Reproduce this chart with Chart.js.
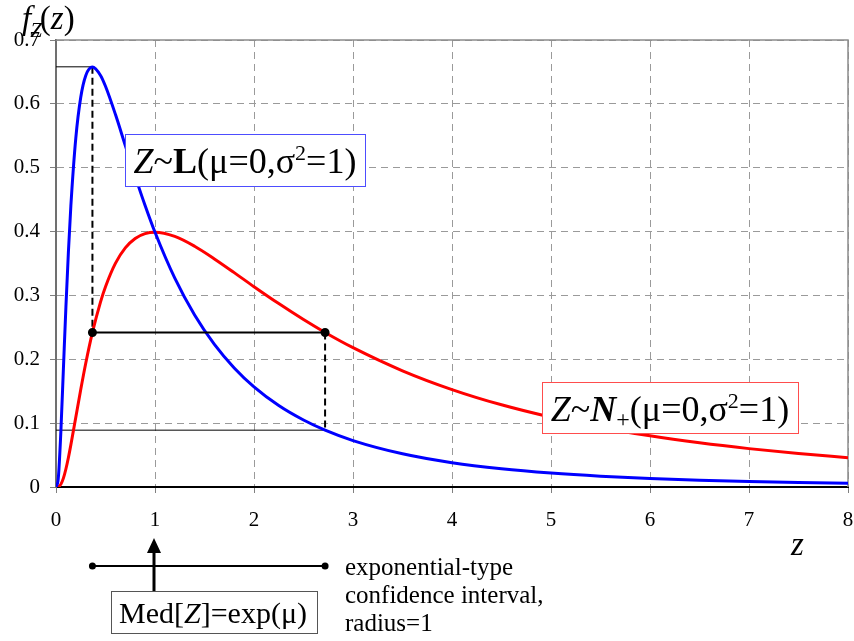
<!DOCTYPE html>
<html lang="en">
<head>
<meta charset="UTF-8">
<title>Lognormal and positive normal densities</title>
<script src="https://cdn.jsdelivr.net/npm/chart.js"></script>
<style>
    body { margin: 0; background: #fff; }
</style>
</head>
<body>
<canvas id="densityChart" width="854" height="641"></canvas>
<script>
    const zValues = [0, 0.02, 0.03, 0.05, 0.075, 0.1, 0.125, 0.15, 0.2, 0.25, 0.3, 0.368, 0.45, 0.5, 0.6, 0.7, 0.8, 0.9,
        1, 1.2, 1.4, 1.6, 1.8, 2, 2.25, 2.5, 2.718, 3, 3.5, 4, 4.5, 5, 5.5, 6, 6.5, 7, 7.5, 8];
    // blue curve, Z~L(0,1)
    const lognormalDensity = [0, 0.0095, 0.0285, 0.0898, 0.1859, 0.2815, 0.3673, 0.440, 0.5464, 0.6104, 0.6442, 0.6577, 0.6445, 0.6275, 0.5836, 0.5348, 0.4864, 0.4408,
        0.3989, 0.3270, 0.2693, 0.2233, 0.1865, 0.1569, 0.1276, 0.1049, 0.0890, 0.0727, 0.0520, 0.0381, 0.0286, 0.0219, 0.0170, 0.0134, 0.0107, 0.0086, 0.0070, 0.0057];
    // red curve, Z~N+(0,1)
    const positiveNormalDensity = [0, 0.0002, 0.0009, 0.0045, 0.0139, 0.0282, 0.0459, 0.0660, 0.1093, 0.1526, 0.1933, 0.2420, 0.2900, 0.3137, 0.3502, 0.3744, 0.3891, 0.3967,
        0.3989, 0.3924, 0.3770, 0.3572, 0.3357, 0.3137, 0.2872, 0.2622, 0.2420, 0.2182, 0.1820, 0.1526, 0.1287, 0.1093, 0.0933, 0.0801, 0.0692, 0.0601, 0.0524, 0.0459];

    const xTicks = [0, 1, 2, 3, 4, 5, 6, 7, 8];
    const yTicks = [0, 0.1, 0.2, 0.3, 0.4, 0.5, 0.6, 0.7];

    // guide lines
    const ciLow = 0.368, ciHigh = 2.718, medianZ = 1;
    const peakLevel = 0.658, ciLevel = 0.242, tailLevel = 0.089;

    const serif = '"Liberation Serif", "Times New Roman", serif';
    const font = (size, style) => (style || '') + ' ' + size + 'px ' + serif;
    const pts = (xs, ys) => xs.map((x, i) => ({ x: x, y: ys[i] }));

    // write a line of text made of pieces in different styles
    function drawRich(ctx, parts, x, y, align) {
        let total = 0;
        parts.forEach(p => { ctx.font = p.font; p.w = ctx.measureText(p.text).width; total += p.w + (p.dx || 0); });
        let cx = align === 'center' ? x - total / 2 : x;
        ctx.textAlign = 'left';
        ctx.textBaseline = 'alphabetic';
        ctx.fillStyle = '#000';
        parts.forEach(p => { ctx.font = p.font; cx += p.dx || 0; ctx.fillText(p.text, cx, y + (p.dy || 0)); cx += p.w; });
    }

    function labelBox(ctx, x, y, w, h, color) {
        ctx.fillStyle = '#fff';
        ctx.fillRect(x, y, w, h);
        ctx.strokeStyle = color;
        ctx.lineWidth = 1;
        ctx.strokeRect(x + 0.5, y + 0.5, w, h);
    }

    const extras = {
        id: 'extras',
        beforeDatasetsDraw(chart) {
            const { ctx, chartArea: a } = chart;
            ctx.save();
            ctx.strokeStyle = '#8c8c8c';
            ctx.lineWidth = 1.5;
            ctx.beginPath();
            ctx.moveTo(a.left, a.top);
            ctx.lineTo(a.right, a.top);
            ctx.lineTo(a.right, a.bottom);
            ctx.stroke();
            ctx.restore();
        },
        afterDatasetsDraw(chart) {
            const { ctx, scales: { x } } = chart;
            ctx.save();

            // curve labels
            labelBox(ctx, 125, 134, 240, 52, '#4d4dff');
            drawRich(ctx, [
                { text: 'Z', font: font(36, 'italic') },
                { text: '~', font: font(36) },
                { text: 'L', font: font(36, 'bold') },
                { text: '(\u03bc=0,\u03c3', font: font(36) },
                { text: '2', font: font(22), dy: -13 },
                { text: '=1)', font: font(36) }
            ], 245, 173, 'center');

            labelBox(ctx, 542, 382, 256, 51, '#ff4d4d');
            drawRich(ctx, [
                { text: 'Z', font: font(36, 'italic') },
                { text: '~', font: font(36) },
                { text: 'N', font: font(36, 'italic bold') },
                { text: '+', font: font(24), dy: 6 },
                { text: '(\u03bc=0,\u03c3', font: font(36) },
                { text: '2', font: font(22), dy: -13 },
                { text: '=1)', font: font(36) }
            ], 670, 421, 'center');

            // axis titles
            drawRich(ctx, [
                { text: 'f', font: font(33, 'italic') },
                { text: 'Z', font: font(21, 'italic'), dy: 8, dx: -1 },
                { text: '(', font: font(33), dx: -2 },
                { text: 'z', font: font(33, 'italic') },
                { text: ')', font: font(33) }
            ], 22, 29, 'left');
            drawRich(ctx, [{ text: 'z', font: font(33, 'italic') }], 791, 555, 'left');

            // confidence interval under the axis
            const lowPx = x.getPixelForValue(ciLow), highPx = x.getPixelForValue(ciHigh);
            const medPx = x.getPixelForValue(medianZ) - 1;
            ctx.strokeStyle = '#000';
            ctx.fillStyle = '#000';
            ctx.lineWidth = 2;
            ctx.beginPath();
            ctx.moveTo(lowPx, 566);
            ctx.lineTo(highPx, 566);
            ctx.stroke();
            [lowPx, highPx].forEach(px => {
                ctx.beginPath();
                ctx.arc(px, 566, 3.5, 0, Math.PI * 2);
                ctx.fill();
            });

            // arrow to the median
            ctx.lineWidth = 3;
            ctx.beginPath();
            ctx.moveTo(medPx, 591);
            ctx.lineTo(medPx, 550);
            ctx.stroke();
            ctx.beginPath();
            ctx.moveTo(medPx, 538);
            ctx.lineTo(medPx - 7, 553);
            ctx.lineTo(medPx + 7, 553);
            ctx.closePath();
            ctx.fill();

            labelBox(ctx, 111, 591, 206, 42, '#555');
            drawRich(ctx, [
                { text: 'Med[', font: font(30) },
                { text: 'Z', font: font(30, 'italic') },
                { text: ']=exp(\u03bc)', font: font(30) }
            ], 213, 623, 'center');

            ctx.font = font(25);
            ctx.fillStyle = '#000';
            ctx.textAlign = 'left';
            ctx.fillText('exponential-type', 345, 575);
            ctx.fillText('confidence interval,', 345, 603);
            ctx.fillText('radius=1', 345, 631);

            ctx.restore();
        }
    };

    const guide = (data, extra) => Object.assign({
        data: data,
        borderColor: '#000',
        borderWidth: 1,
        pointRadius: 0,
        showLine: true,
        order: 3
    }, extra);

    new Chart(document.getElementById('densityChart'), {
        type: 'scatter',
        data: {
            datasets: [
                {
                    label: 'Z~L(0,1)',
                    data: pts(zValues, lognormalDensity),
                    borderColor: '#0000ff',
                    borderWidth: 3,
                    pointRadius: 0,
                    showLine: true,
                    cubicInterpolationMode: 'monotone',
                    order: 1
                },
                {
                    label: 'Z~N+(0,1)',
                    data: pts(zValues, positiveNormalDensity),
                    borderColor: '#ff0000',
                    borderWidth: 3,
                    pointRadius: 0,
                    showLine: true,
                    cubicInterpolationMode: 'monotone',
                    order: 2
                },
                guide([{ x: 0, y: peakLevel }, { x: ciLow, y: peakLevel }]),
                guide([{ x: ciLow, y: peakLevel }, { x: ciLow, y: ciLevel }], { borderDash: [7, 4], borderWidth: 2 }),
                guide([{ x: ciHigh, y: ciLevel }, { x: ciHigh, y: tailLevel }], { borderDash: [7, 4], borderWidth: 2 }),
                guide([{ x: 0, y: tailLevel }, { x: ciHigh, y: tailLevel }]),
                guide([{ x: ciLow, y: ciLevel }, { x: ciHigh, y: ciLevel }], {
                    borderWidth: 2, pointRadius: 3.5, pointBackgroundColor: '#000', order: 0
                })
            ]
        },
        options: {
            responsive: false,
            animation: false,
            layout: { padding: { top: 40, right: 6, left: 0, bottom: 0 } },
            plugins: { legend: { display: false }, tooltip: { enabled: false } },
            scales: {
                x: {
                    type: 'linear',
                    min: 0,
                    max: 8,
                    afterBuildTicks: s => { s.ticks = xTicks.map(v => ({ value: v })); },
                    afterFit: s => { s.height = 154; s.paddingLeft = 0; s.paddingRight = 0; },
                    grid: { color: '#9a9a9a', tickColor: '#808080', tickLength: 6, lineWidth: 1 },
                    border: { color: '#000', width: 2, dash: [7, 5] },
                    ticks: { color: '#000', font: { family: serif, size: 21 }, padding: 15, maxRotation: 0 }
                },
                y: {
                    min: 0,
                    max: 0.7,
                    afterBuildTicks: s => { s.ticks = yTicks.map(v => ({ value: v })); },
                    afterFit: s => { s.width = 56; s.paddingTop = 0; s.paddingBottom = 0; },
                    grid: { color: '#9a9a9a', tickColor: '#808080', tickLength: 6, lineWidth: 1 },
                    border: { color: '#707070', width: 2, dash: [7, 5] },
                    ticks: { color: '#000', font: { family: serif, size: 21 }, padding: 10, callback: v => String(v) }
                }
            }
        },
        plugins: [extras]
    });
</script>
</body>
</html>
